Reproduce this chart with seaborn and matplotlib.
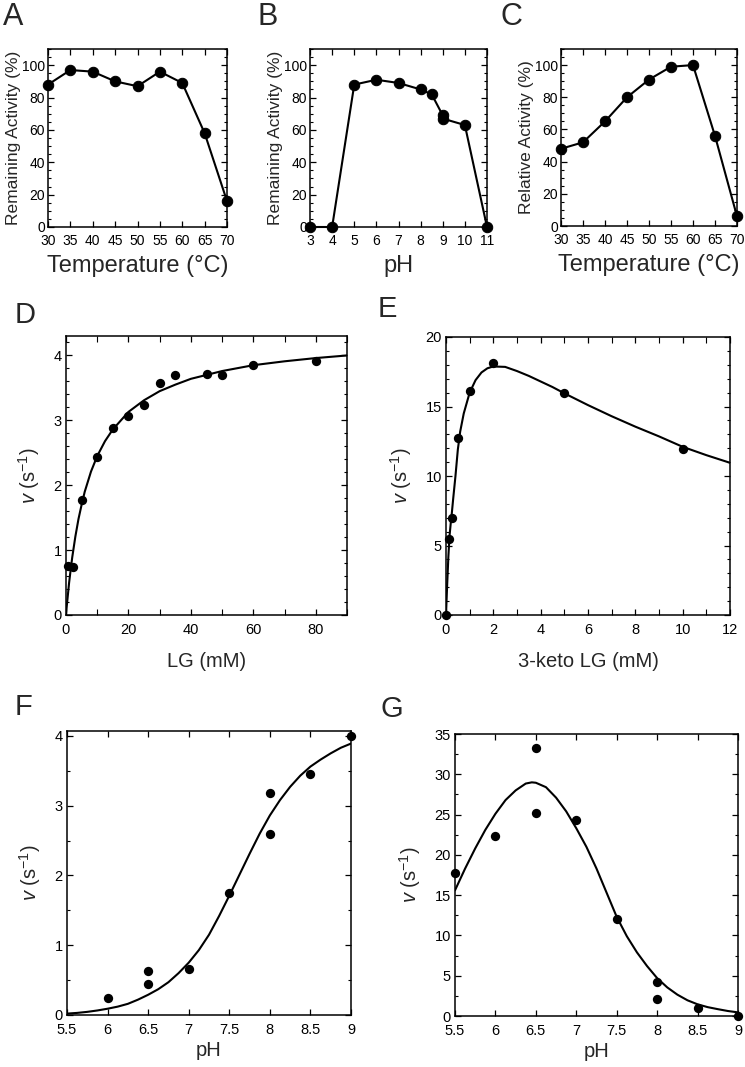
import numpy as np
import pandas as pd
import seaborn as sns
import matplotlib.pyplot as plt
from matplotlib.ticker import MultipleLocator

# panel A - thermal stability
a_temp = [30, 35, 40, 45, 50, 55, 60, 65, 70]
a_act = [88, 97, 96, 90, 87, 96, 89, 58, 16]

# panel B - pH stability
b_ph = [3, 4, 5, 6, 7, 8, 8.5, 9, 9, 10, 11]
b_act = [0, 0, 88, 91, 89, 85, 82, 69, 67, 63, 0]

# panel C - temperature optimum
c_temp = [30, 35, 40, 45, 50, 55, 60, 65, 70]
c_act = [48, 52, 65, 80, 91, 99, 100, 56, 6]

# panel D - LG kinetics
d_lg = [0.7, 2.2, 5, 10, 15, 20, 25, 30, 35, 45, 50, 60, 80]
d_v = [0.75, 0.74, 1.78, 2.44, 2.88, 3.07, 3.24, 3.58, 3.70, 3.72, 3.70, 3.86, 3.91]
d_fit_x = [0, 0.25, 0.5, 1, 1.5, 2, 3, 4, 5, 6, 8, 10, 12.5, 15, 20, 25, 30, 35, 40, 50,
           60, 70, 80, 90]
d_fit_y = [0, 0.14, 0.26, 0.50, 0.70, 0.89, 1.21, 1.48, 1.70, 1.90, 2.21, 2.45, 2.68, 2.86,
           3.13, 3.31, 3.45, 3.55, 3.64, 3.76, 3.85, 3.91, 3.96, 4.00]

# panel E - 3-keto LG kinetics
e_klg = [0, 0.13, 0.25, 0.5, 1, 2, 5, 10]
e_v = [0, 5.5, 7.0, 12.7, 16.1, 18.1, 15.95, 11.95]
e_fit_x = [0, 0.05, 0.1, 0.15, 0.2, 0.25, 0.3, 0.4, 0.5, 0.6, 0.75, 1.0, 1.25, 1.5, 1.75,
           2.0, 2.5, 3.0, 3.5, 4.0, 4.5, 5, 6, 7, 8, 9, 10, 11, 12]
e_fit_y = [0, 2.2, 4.2, 5.7, 6.6, 7.4, 8.3, 10.0, 11.9, 13.2, 14.5, 16.0, 16.9, 17.45, 17.75,
           17.88, 17.85, 17.55, 17.2, 16.8, 16.4, 15.95, 15.1, 14.3, 13.55, 12.85, 12.1, 11.5, 10.95]

# panel F - pH profile, LG
f_ph = [6, 6.5, 6.5, 7, 7.5, 8, 8, 8.5, 9]
f_v = [0.24, 0.63, 0.45, 0.655, 1.75, 3.18, 2.59, 3.46, 4.0]
f_fit_x = [5.5, 5.625, 5.75, 5.875, 6.0, 6.125, 6.25, 6.375, 6.5, 6.625, 6.75, 6.875, 7.0,
           7.125, 7.25, 7.375, 7.5, 7.625, 7.75, 7.875, 8.0, 8.125, 8.25, 8.375, 8.5,
           8.625, 8.75, 8.875, 9.0]
f_fit_y = [0.02, 0.03, 0.045, 0.065, 0.09, 0.12, 0.16, 0.22, 0.29, 0.37, 0.47, 0.60, 0.75,
           0.93, 1.15, 1.42, 1.71, 2.01, 2.31, 2.60, 2.86, 3.08, 3.27, 3.43, 3.56,
           3.66, 3.75, 3.83, 3.89]

# panel G - pH profile, 3-keto LG
g_ph = [5.5, 6, 6.5, 6.5, 7, 7.5, 8, 8, 8.5, 9]
g_v = [17.7, 22.3, 33.3, 25.2, 24.3, 12.1, 4.26, 2.07, 1.03, 0]
g_fit_x = [5.5, 5.625, 5.75, 5.875, 6.0, 6.125, 6.25, 6.375, 6.45, 6.5, 6.625, 6.75, 6.875,
           7.0, 7.125, 7.25, 7.375, 7.5, 7.625, 7.75, 7.875, 8.0, 8.125, 8.25, 8.375,
           8.5, 8.625, 8.75, 8.875, 9.0]
g_fit_y = [15.6, 18.3, 20.8, 23.1, 25.1, 26.8, 28.0, 28.85, 29.0, 28.95, 28.4, 27.1, 25.4,
           23.3, 21.0, 18.3, 15.3, 12.3, 9.9, 7.9, 6.2, 4.7, 3.55, 2.65, 1.95,
           1.45, 1.1, 0.85, 0.62, 0.45]

sns.set_style("ticks")
plt.rcParams['font.family'] = ['Liberation Sans', 'DejaVu Sans']
plt.rcParams['mathtext.fontset'] = 'custom'
plt.rcParams['mathtext.rm'] = 'Liberation Sans'
plt.rcParams['mathtext.it'] = 'Liberation Sans:italic'
plt.rcParams.update({
    'xtick.direction': 'in', 'ytick.direction': 'in',
    'xtick.top': True, 'ytick.right': True,
    'xtick.major.size': 4, 'ytick.major.size': 4,
    'xtick.minor.size': 2.5, 'ytick.minor.size': 2.5,
    'xtick.major.width': 0.9, 'ytick.major.width': 0.9,
    'xtick.minor.width': 0.8, 'ytick.minor.width': 0.8,
    'axes.linewidth': 1.1, 'axes.edgecolor': 'black',
    'xtick.color': 'black', 'ytick.color': 'black',
})

fig = plt.figure(figsize=(7.45, 10.67), dpi=100)


def rect(l, t, w, h):
    return [l / 745, 1 - (t + h) / 1067, w / 745, h / 1067]


def letter(x, y, s, size=21):
    fig.text(x / 745, 1 - y / 1067, s, fontsize=size, va='baseline', ha='left')


def top_panel(box, x, y, xlab, ylab, xlim, xticks):
    ax = fig.add_axes(rect(*box))
    sns.lineplot(x=x, y=y, ax=ax, color='black', lw=1.5, marker='o', markersize=7.5,
                 markeredgecolor='black', sort=False, estimator=None, clip_on=False)
    ax.set_xlim(*xlim)
    ax.set_ylim(0, 110)
    ax.set_xticks(xticks)
    ax.set_yticks([0, 20, 40, 60, 80, 100])
    ax.yaxis.set_minor_locator(MultipleLocator(5))
    ax.tick_params(labelsize=10, pad=2)
    ax.tick_params(axis='x', pad=5)
    ax.set_xlabel(xlab, fontsize=17, labelpad=5)
    ax.set_ylabel(ylab, fontsize=12.5, labelpad=1)
    return ax


top_panel((48, 49, 179, 178), a_temp, a_act, 'Temperature (°C)', 'Remaining Activity (%)',
          (30, 70), range(30, 71, 5))
top_panel((310, 49, 177, 178), b_ph, b_act, 'pH', 'Remaining Activity (%)',
          (3, 11), range(3, 12))
top_panel((561, 49, 176, 177), c_temp, c_act, 'Temperature (°C)', 'Relative Activity (%)',
          (30, 70), range(30, 71, 5))
letter(3, 25, 'A', 22)
letter(257, 25, 'B', 22)
letter(500, 25, 'C', 22)

vlab = r'$v$ (s$^{-1}$)'


def kin_panel(box, px, py, fx, fy, xlab, xpad):
    ax = fig.add_axes(rect(*box))
    sns.lineplot(x=fx, y=fy, ax=ax, color='black', lw=1.5, sort=False, estimator=None)
    sns.scatterplot(x=px, y=py, ax=ax, color='black', s=45, linewidth=0, clip_on=False, zorder=3)
    ax.tick_params(labelsize=10.5, pad=3)
    ax.tick_params(axis='x', pad=5.5)
    ax.set_xlabel(xlab, fontsize=14.5, labelpad=xpad)
    ax.set_ylabel(vlab, fontsize=14.5, labelpad=8)
    return ax


ax = kin_panel((66, 336, 281, 279), d_lg, d_v, d_fit_x, d_fit_y, 'LG (mM)', 11)
ax.set_xlim(0, 90)
ax.set_ylim(0, 4.3)
ax.set_xticks([0, 20, 40, 60, 80])
ax.set_yticks([0, 1, 2, 3, 4])
ax.xaxis.set_minor_locator(MultipleLocator(10))
ax.yaxis.set_minor_locator(MultipleLocator(0.2))
ax.tick_params(axis='x', which='minor', length=4)
letter(15, 323, 'D')

ax = kin_panel((446, 337, 284, 278), e_klg, e_v, e_fit_x, e_fit_y, '3-keto LG (mM)', 11)
ax.set_xlim(0, 12)
ax.set_ylim(0, 20)
ax.set_xticks(range(0, 13, 2))
ax.set_yticks(range(0, 21, 5))
ax.xaxis.set_minor_locator(MultipleLocator(1))
ax.yaxis.set_minor_locator(MultipleLocator(1))
ax.tick_params(axis='x', which='minor', length=4)
letter(378, 317, 'E')

ax = kin_panel((67, 731, 284, 284), f_ph, f_v, f_fit_x, f_fit_y, 'pH', 3)
ax.set_xlim(5.5, 9)
ax.set_ylim(0, 4.07)
ax.set_xticks([5.5, 6, 6.5, 7, 7.5, 8, 8.5, 9])
ax.set_xticklabels(['5.5', '6', '6.5', '7', '7.5', '8', '8.5', '9'])
ax.set_yticks([0, 1, 2, 3, 4])
ax.yaxis.set_minor_locator(MultipleLocator(0.5))
letter(15, 715, 'F')

ax = kin_panel((455, 734, 283, 282), g_ph, g_v, g_fit_x, g_fit_y, 'pH', 3)
ax.set_xlim(5.5, 9)
ax.set_ylim(0, 35)
ax.set_xticks([5.5, 6, 6.5, 7, 7.5, 8, 8.5, 9])
ax.set_xticklabels(['5.5', '6', '6.5', '7', '7.5', '8', '8.5', '9'])
ax.set_yticks(range(0, 36, 5))
ax.yaxis.set_minor_locator(MultipleLocator(2.5))
letter(380, 717, 'G')

fig.savefig('out.png', dpi=100)
